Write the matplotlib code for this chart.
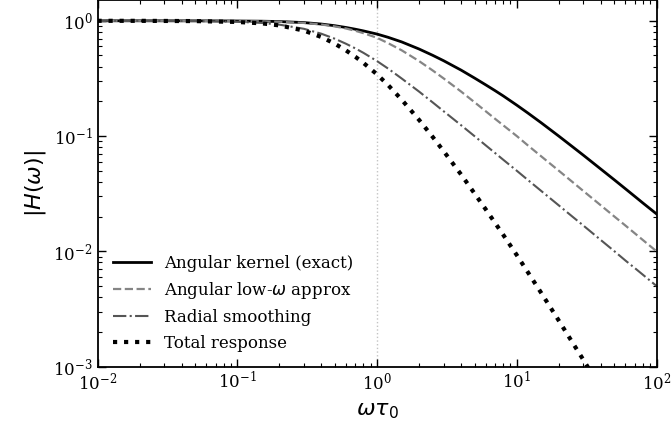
import matplotlib
matplotlib.use("Agg")
import matplotlib.pyplot as plt

# frequency grid (omega * tau_0)
x = [0.01, 0.02, 0.05, 0.1, 0.15, 0.2, 0.3, 0.4, 0.5, 0.6, 0.7, 0.8, 1.0, 1.2,
     1.5, 2.0, 2.5, 3.0, 4.0, 5.0, 6.0, 7.0, 8.0, 10, 12, 15, 20, 25, 30, 40,
     50, 60, 70, 80, 100]

angular_exact = [1.0, 1.0, 0.999, 0.996, 0.992, 0.985, 0.965, 0.937, 0.906,
                 0.875, 0.845, 0.817, 0.767, 0.719, 0.656, 0.569, 0.502, 0.45,
                 0.373, 0.318, 0.278, 0.2475, 0.223, 0.1854, 0.1585, 0.130,
                 0.0998, 0.0809, 0.0681, 0.0516, 0.0416, 0.0348, 0.0299,
                 0.0262, 0.0211]

angular_lowfreq = [1.0, 0.9998, 0.9988, 0.995, 0.989, 0.981, 0.958, 0.928,
                   0.894, 0.857, 0.819, 0.781, 0.712, 0.64, 0.555, 0.447,
                   0.371, 0.316, 0.243, 0.196, 0.164, 0.141, 0.124, 0.1,
                   0.083, 0.0665, 0.05, 0.04, 0.0333, 0.025, 0.02, 0.0167,
                   0.0143, 0.0125, 0.01]

radial = [0.9998, 0.9992, 0.995, 0.981, 0.958, 0.926, 0.852, 0.772, 0.698,
          0.632, 0.576, 0.527, 0.447, 0.385, 0.316, 0.243, 0.196, 0.164,
          0.124, 0.0995, 0.083, 0.0712, 0.0623, 0.05, 0.0416, 0.0333, 0.025,
          0.02, 0.0167, 0.0125, 0.01, 0.0083, 0.00714, 0.00625, 0.005]

total = [0.9998, 0.9992, 0.994, 0.977, 0.950, 0.912, 0.822, 0.723, 0.632,
         0.553, 0.487, 0.431, 0.343, 0.277, 0.207, 0.138, 0.0984, 0.0738,
         0.0463, 0.0316, 0.0231, 0.0176, 0.0139, 0.00927, 0.00659, 0.00433,
         0.0025, 0.00162, 0.00114, 0.000645, 0.000416, 0.000289, 0.000213,
         0.000164, 0.000106]

labels = ["Angular kernel (exact)", r"Angular low-$\omega$ approx",
          "Radial smoothing", "Total response"]

plt.rcParams["font.family"] = ["DejaVu Serif"]
plt.rcParams["mathtext.fontset"] = "dejavusans"

fig = plt.figure(figsize=(6.72, 4.25), dpi=100)
ax = fig.add_axes([97.5 / 672, 1 - 366.5 / 425, (656.5 - 97.5) / 672, 366.0 / 425])

ax.axvline(1.0, color="#c4c4c4", lw=1.0, ls=":", zorder=1)
ax.plot(x, angular_exact, color="black", lw=2.0, ls="-", label=labels[0])
ax.plot(x, angular_lowfreq, color="#858585", lw=1.6, ls="--", label=labels[1])
ax.plot(x, radial, color="#555555", lw=1.5, ls="-.", label=labels[2])
ax.plot(x, total, color="black", lw=3.0, ls=":", label=labels[3])

ax.set_xscale("log")
ax.set_yscale("log")
ax.set_xlim(1e-2, 1e2)
ax.set_ylim(1e-3, 1.5)

ax.set_xlabel(r"$\omega\tau_0$", fontsize=16)
ax.set_ylabel(r"$|H(\omega)|$", fontsize=16)

ax.tick_params(which="both", direction="in", top=True, right=True)
ax.tick_params(which="major", length=6, width=1.0, labelsize=12)
ax.tick_params(which="minor", length=3, width=0.8)
for s in ax.spines.values():
    s.set_linewidth(1.3)

ax.legend(loc="lower left", frameon=False, fontsize=12, handlelength=2.3)

fig.savefig("out.png", dpi=100)
